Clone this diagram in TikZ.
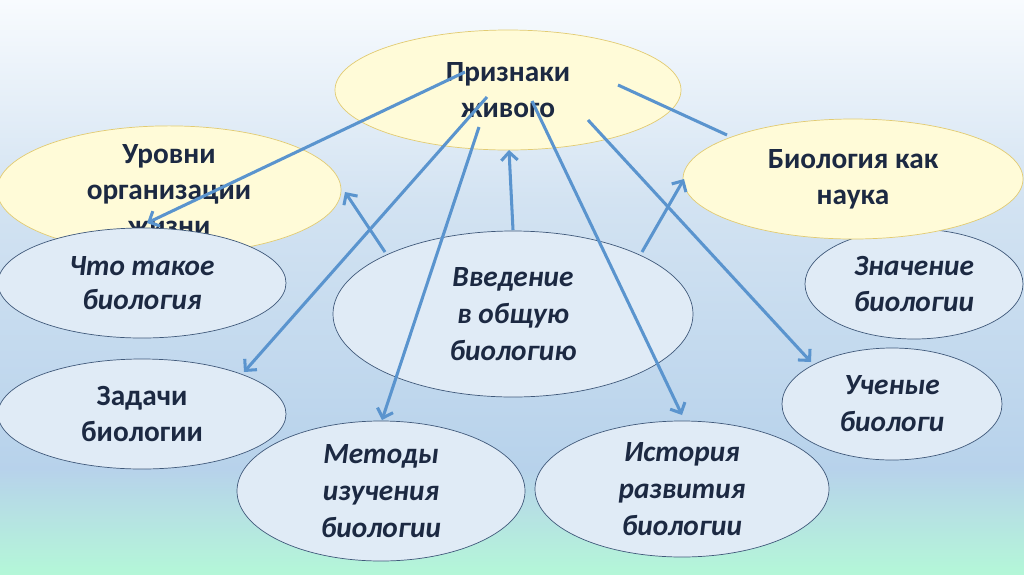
\documentclass[tikz,border=0pt]{standalone}
\usepackage{fontspec}
\setmainfont{Carlito}
\usetikzlibrary{arrows.meta,shapes.geometric}
\definecolor{fon1}{HTML}{F8FBFE}
\definecolor{fon2}{HTML}{D3E3F2}
\definecolor{fon3}{HTML}{B7D2EB}
\definecolor{fon4}{HTML}{B4F7D8}
\definecolor{zhfon}{HTML}{FFFBD8}
\definecolor{zhgran}{HTML}{E2CB72}
\definecolor{golfon}{HTML}{E0EBF6}
\definecolor{golgran}{HTML}{40597A}
\definecolor{strel}{HTML}{5A94CE}
\definecolor{tekst}{HTML}{1C2942}

\begin{document}
\begin{tikzpicture}[x=0.03cm,y=-0.03cm,
    zheltyj/.style={ellipse,draw=zhgran,fill=zhfon,line width=0.6pt,inner sep=0pt,
      align=center,text=tekst,font=\bfseries\fontsize{25}{30.5}\selectfont},
    goluboj/.style={ellipse,draw=golgran,fill=golfon,line width=0.6pt,inner sep=0pt,
      align=center,text=tekst,font=\bfseries\itshape\fontsize{25}{31.5}\selectfont},
    strelka/.style={draw=strel,line width=2.6pt,-{Straight Barb[length=7pt,width=14pt]}}]

        %------------------
        % фон
        %------------------
        \useasboundingbox (0,0) rectangle (1024,574);
        \shade[top color=fon1,bottom color=fon2] (0,0) rectangle (1024,200);
        \shade[top color=fon2,bottom color=fon3] (0,199) rectangle (1024,470);
        \shade[top color=fon3,bottom color=fon4] (0,469) rectangle (1024,574);

        %------------------
        % эллипсы
        %------------------
        \node[zheltyj,minimum width=10.32cm,minimum height=3.48cm] (urov) at (169,190)
          {Уровни\\организации\\жизни};
        \node[goluboj,minimum width=8.64cm,minimum height=3.3cm,
          font=\bfseries\itshape\fontsize{25}{28.5}\selectfont] (chto) at (142,283)
          {Что такое\\биология};
        \node[goluboj,minimum width=6.54cm,minimum height=3.3cm] (znach) at (914,284)
          {Значение\\биологии};
        \node[zheltyj,minimum width=10.2cm,minimum height=3.6cm] (nauka) at (853,179)
          {Биология как\\наука};
        \node[zheltyj,minimum width=10.38cm,minimum height=3.6cm] (priz) at (508,90)
          {Признаки\\живого};
        \node[goluboj,minimum width=10.8cm,minimum height=4.98cm] (vved) at (513,314)
          {Введение\\в общую\\биологию};
        \node[goluboj,minimum width=8.64cm,minimum height=3.3cm,
          font=\bfseries\fontsize{25}{31}\selectfont] (zad) at (142,414)
          {Задачи\\биологии};
        \node[goluboj,minimum width=8.64cm,minimum height=4.2cm] (met) at (381,491)
          {Методы\\изучения\\биологии};
        \node[goluboj,minimum width=8.82cm,minimum height=4.08cm] (ist) at (682,489)
          {История\\развития\\биологии};
        \node[goluboj,minimum width=6.6cm,minimum height=3.36cm] (uch) at (892,404)
          {Ученые\\биологи};

        %------------------
        % концы стрелок
        %------------------
        \coordinate (p1) at (465,72);   \coordinate (q1) at (147,223);
        \coordinate (p2) at (385,252);  \coordinate (q2) at (345,192);
        \coordinate (p3) at (487,97);   \coordinate (q3) at (244,372);
        \coordinate (p4) at (479,127);  \coordinate (q4) at (382,420);
        \coordinate (p5) at (513,230);  \coordinate (q5) at (509,150);
        \coordinate (p6) at (532,101);  \coordinate (q6) at (682,415);
        \coordinate (p7) at (588,120);  \coordinate (q7) at (811,362);
        \coordinate (p8) at (642,252);  \coordinate (q8) at (684,179);
        \coordinate (p9) at (618,85);   \coordinate (q9) at (727,135);

        %------------------
        % стрелки
        %------------------
        \foreach \i in {1,...,8}
          \draw[strelka] (p\i) -- (q\i);
        \draw[strel,line width=2.6pt] (p9) -- (q9);
\end{tikzpicture}
\end{document}
